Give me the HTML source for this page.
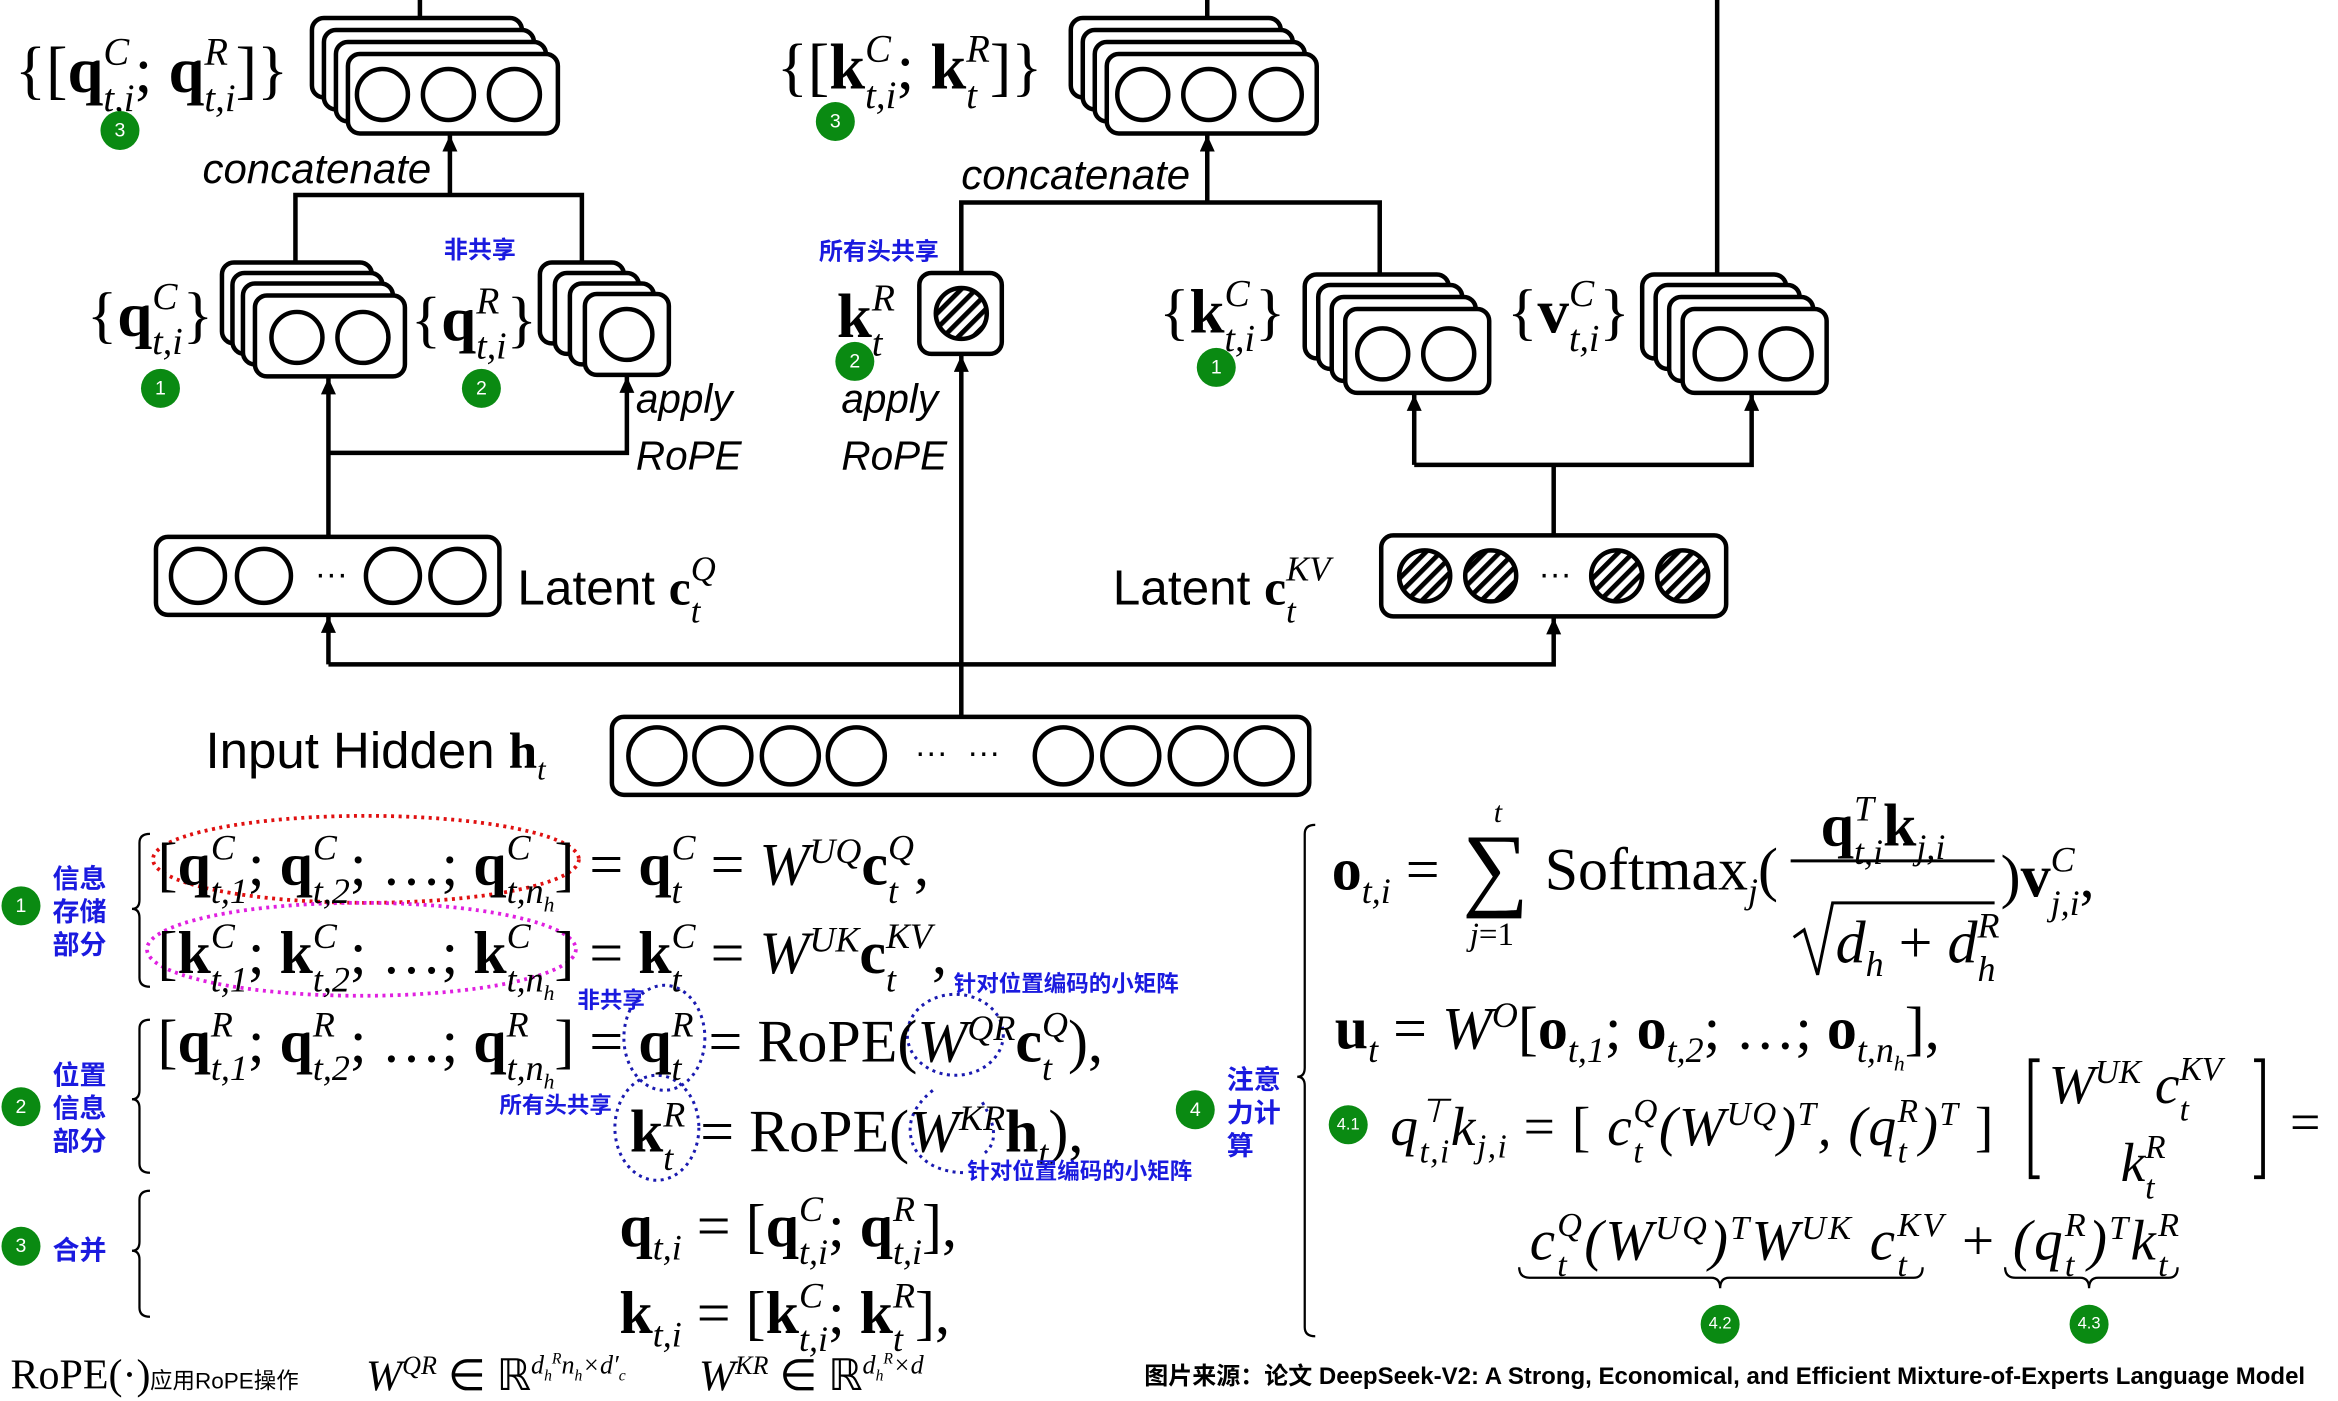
<!DOCTYPE html>
<html><head><meta charset="utf-8"><style>
html,body{margin:0;padding:0;background:#fff;overflow:hidden}
#w{position:absolute;left:0;top:0;width:1559px;height:932px;transform:scale(1.4997);transform-origin:0 0}
svg{position:absolute;left:0;top:0}
.m{position:absolute;font-family:"Liberation Serif",serif;font-size:40px;white-space:nowrap;line-height:1;color:#000}
.s{position:absolute;font-family:"Liberation Sans",sans-serif;white-space:nowrap;line-height:1;color:#000}
.i{font-style:italic}
.b{font-weight:bold;font-style:normal}
.ss{display:inline-block;vertical-align:-0.5em;font-size:.6em;line-height:1.2;font-style:italic;font-weight:normal;text-align:left}
.ss>span{display:block}
sup,sub{font-size:.6em;font-style:italic;font-weight:normal;line-height:0}
.cn{position:absolute;font-family:"Liberation Sans","Noto Sans CJK SC",sans-serif;color:#1a1adf;font-weight:bold;white-space:nowrap;line-height:1}
.g{position:absolute;width:26px;height:26px;border-radius:50%;background:#0a8a12;color:#fff;font:13px "Liberation Sans",sans-serif;text-align:center;line-height:26px}
</style></head><body><div id="w">
<svg width="1559" height="932" viewBox="0 0 1559 932">
<defs>
<pattern id="h" patternUnits="userSpaceOnUse" width="7" height="7" patternTransform="rotate(45)"><rect width="7" height="7" fill="#fff"/><rect width="3.2" height="7" fill="#000"/></pattern>
<marker id="a" markerWidth="12" markerHeight="12" refX="11" refY="5" orient="auto" markerUnits="userSpaceOnUse"><path d="M0,0 L11,5 L0,10 Z" fill="#000"/></marker>
</defs>
<g fill="none" stroke="#000" stroke-width="3">
<line x1="280" y1="0" x2="280" y2="12"/><line x1="805" y1="0" x2="805" y2="12"/><line x1="1145" y1="0" x2="1145" y2="183"/>
<rect x="208" y="12" width="140" height="53" rx="8" fill="#fff"/><rect x="216" y="20" width="140" height="53" rx="8" fill="#fff"/><rect x="224" y="28" width="140" height="53" rx="8" fill="#fff"/><rect x="232" y="36" width="140" height="53" rx="8" fill="#fff"/>
<circle cx="255" cy="63" r="17"/><circle cx="299" cy="63" r="17"/><circle cx="343" cy="63" r="17"/>
<rect x="714" y="12" width="140" height="53" rx="8" fill="#fff"/><rect x="722" y="20" width="140" height="53" rx="8" fill="#fff"/><rect x="730" y="28" width="140" height="53" rx="8" fill="#fff"/><rect x="738" y="36" width="140" height="53" rx="8" fill="#fff"/>
<circle cx="762" cy="63" r="17"/><circle cx="806" cy="63" r="17"/><circle cx="851" cy="63" r="17"/>
<line x1="300" y1="130" x2="300" y2="90" marker-end="url(#a)"/>
<polyline points="197,176 197,130 388,130 388,176"/>
<line x1="805" y1="135" x2="805" y2="90" marker-end="url(#a)"/>
<polyline points="641,182 641,135 920,135 920,183"/>
<rect x="148" y="175" width="100" height="54" rx="8" fill="#fff"/><rect x="155" y="182" width="100" height="54" rx="8" fill="#fff"/><rect x="162" y="189" width="100" height="54" rx="8" fill="#fff"/><rect x="170" y="197" width="100" height="54" rx="8" fill="#fff"/>
<circle cx="198" cy="225" r="17"/><circle cx="242" cy="225" r="17"/>
<rect x="360" y="175" width="56" height="54" rx="8" fill="#fff"/><rect x="370" y="182" width="56" height="54" rx="8" fill="#fff"/><rect x="380" y="189" width="56" height="54" rx="8" fill="#fff"/><rect x="390" y="196" width="56" height="54" rx="8" fill="#fff"/>
<circle cx="418" cy="223" r="17"/>
<line x1="219" y1="357" x2="219" y2="252" marker-end="url(#a)"/>
<polyline points="219,302 418,302 418,251" marker-end="url(#a)"/>
<rect x="104" y="358" width="229" height="52" rx="8" fill="#fff"/>
<circle cx="132" cy="384" r="18"/><circle cx="176" cy="384" r="18"/><circle cx="262" cy="384" r="18"/><circle cx="305" cy="384" r="18"/>
<polyline points="219,443 219,411" marker-end="url(#a)"/>
<polyline points="219,443 1036,443 1036,412" marker-end="url(#a)"/>
<line x1="641" y1="478" x2="641" y2="237" marker-end="url(#a)"/>
<rect x="613" y="182" width="55" height="54" rx="8" fill="#fff"/>
<circle cx="641" cy="209" r="17" fill="url(#h)"/>
<rect x="870" y="183" width="96" height="56" rx="8" fill="#fff"/><rect x="879" y="190" width="96" height="56" rx="8" fill="#fff"/><rect x="888" y="198" width="96" height="56" rx="8" fill="#fff"/><rect x="897" y="206" width="96" height="56" rx="8" fill="#fff"/>
<circle cx="922" cy="236" r="17"/><circle cx="966" cy="236" r="17"/>
<rect x="1095" y="183" width="96" height="56" rx="8" fill="#fff"/><rect x="1104" y="190" width="96" height="56" rx="8" fill="#fff"/><rect x="1113" y="198" width="96" height="56" rx="8" fill="#fff"/><rect x="1122" y="206" width="96" height="56" rx="8" fill="#fff"/>
<circle cx="1147" cy="236" r="17"/><circle cx="1191" cy="236" r="17"/>
<polyline points="943,310 943,263" marker-end="url(#a)"/>
<polyline points="943,310 1168,310 1168,263" marker-end="url(#a)"/>
<line x1="1036" y1="357" x2="1036" y2="310"/>
<rect x="921" y="357" width="230" height="54" rx="8" fill="#fff"/>
<circle cx="950" cy="384" r="17" fill="url(#h)"/><circle cx="994" cy="384" r="17" fill="url(#h)"/><circle cx="1078" cy="384" r="17" fill="url(#h)"/><circle cx="1122" cy="384" r="17" fill="url(#h)"/>
<rect x="408" y="478" width="465" height="52" rx="8" fill="#fff"/>
<circle cx="438" cy="504" r="19"/><circle cx="482" cy="504" r="19"/><circle cx="527" cy="504" r="19"/><circle cx="571" cy="504" r="19"/>
<circle cx="709" cy="504" r="19"/><circle cx="754" cy="504" r="19"/><circle cx="799" cy="504" r="19"/><circle cx="843" cy="504" r="19"/>
</g>
<g fill="#000"><text x="210" y="390" font-size="22" font-family="Liberation Sans">···</text><text x="1026" y="390" font-size="22" font-family="Liberation Sans">···</text><text x="610" y="509" font-size="22" font-family="Liberation Sans">···</text><text x="645" y="509" font-size="22" font-family="Liberation Sans">···</text></g>
<g fill="none" stroke="#000" stroke-width="1.5">
<path d="M100,556 Q93,556 93,562 L93,600 Q93,606 88,606 Q93,606 93,612 L93,652 Q93,658 100,658"/>
<path d="M100,680 Q93,680 93,686 L93,727 Q93,733 88,733 Q93,733 93,739 L93,776 Q93,782 100,782"/>
<path d="M100,794 Q93,794 93,800 L93,828 Q93,834 88,834 Q93,834 93,840 L93,872 Q93,878 100,878"/>
<path d="M877,550 Q870,550 870,556 L870,712 Q870,718 865,718 Q870,718 870,724 L870,885 Q870,891 877,891"/>
<path d="M1013,845 Q1013,852 1020,852 L1141,852 Q1147,852 1147,859 Q1147,852 1153,852 L1276,852 Q1282,852 1282,845"/>
<path d="M1337,845 Q1337,852 1344,852 L1387,852 Q1393,852 1393,859 Q1393,852 1399,852 L1446,852 Q1452,852 1452,845"/>
<path d="M1360,707 L1354,707 L1354,785 L1360,785" stroke-width="2.5"/><path d="M1503,707 L1509,707 L1509,785 L1503,785" stroke-width="2.5"/>
<line x1="1194" y1="574" x2="1330" y2="574" stroke-width="2"/>
<path d="M1196,625 L1203,620 L1212,650 L1222,602 L1330,602" stroke-width="2"/>
</g>
<g fill="none" stroke-width="2.5" stroke-dasharray="2 3">
<ellipse cx="244" cy="573" rx="142" ry="29" stroke="#e01010"/>
<ellipse cx="241" cy="633" rx="143" ry="31" stroke="#e020e0"/>
<g stroke="#1a1ab0" stroke-width="2"><ellipse cx="443" cy="692" rx="27" ry="35"/><ellipse cx="637" cy="690" rx="32" ry="27"/><ellipse cx="438" cy="752" rx="28" ry="35"/><path d="M622,727 Q600,745 610,766 Q620,782 645,782"/><path d="M655,735 Q670,760 655,770"/></g>
</g>
</svg>

<div class="m" style="left:10px;top:20px;font-size:43px">{[<b>q</b><span class="ss"><span>C</span><span>t,i</span></span>; <b>q</b><span class="ss"><span>R</span><span>t,i</span></span>]}</div>
<div class="g" style="left:67px;top:74px">3</div>
<div class="s i" style="left:135px;top:99px;font-size:28px">concatenate</div>
<div class="m" style="left:58px;top:184px;font-size:42px">{<b>q</b><span class="ss"><span>C</span><span>t,i</span></span>}</div>
<div class="g" style="left:94px;top:246px">1</div>
<div class="cn" style="left:296px;top:160px;font-size:16px">非共享</div>
<div class="m" style="left:274px;top:187px;font-size:42px">{<b>q</b><span class="ss"><span>R</span><span>t,i</span></span>}</div>
<div class="g" style="left:308px;top:246px">2</div>
<div class="s i" style="left:424px;top:253px;font-size:27px">apply</div>
<div class="s i" style="left:424px;top:291px;font-size:27px">RoPE</div>
<div class="s" style="left:345px;top:366px;font-size:33px">Latent <b style="font-family:'Liberation Serif'">c</b><span class="ss" style="font-family:'Liberation Serif';font-size:.7em"><span>Q</span><span>t</span></span></div>
<div class="m" style="left:518px;top:18px;font-size:43px">{[<b>k</b><span class="ss"><span>C</span><span>t,i</span></span>; <b>k</b><span class="ss"><span>R</span><span>t</span></span>]}</div>
<div class="g" style="left:544px;top:68px">3</div>
<div class="s i" style="left:641px;top:103px;font-size:28px">concatenate</div>
<div class="cn" style="left:546px;top:161px;font-size:16px">所有头共享</div>
<div class="m" style="left:558px;top:185px;font-size:42px"><b>k</b><span class="ss"><span>R</span><span>t</span></span></div>
<div class="g" style="left:557px;top:228px">2</div>
<div class="s i" style="left:561px;top:253px;font-size:27px">apply</div>
<div class="s i" style="left:561px;top:291px;font-size:27px">RoPE</div>
<div class="m" style="left:773px;top:182px;font-size:42px">{<b>k</b><span class="ss"><span>C</span><span>t,i</span></span>}</div>
<div class="g" style="left:798px;top:232px">1</div>
<div class="m" style="left:1005px;top:182px;font-size:42px">{<b>v</b><span class="ss"><span>C</span><span>t,i</span></span>}</div>
<div class="s" style="left:742px;top:366px;font-size:33px">Latent <b style="font-family:'Liberation Serif'">c</b><span class="ss" style="font-family:'Liberation Serif';font-size:.7em"><span>KV</span><span>t</span></span></div>
<div class="s" style="left:137px;top:484px;font-size:34px">Input Hidden <b style="font-family:'Liberation Serif'">h</b><sub style="font-family:'Liberation Serif'">t</sub></div>

<div class="g" style="left:1px;top:591px">1</div>
<div class="cn" style="left:35px;top:575px;font-size:18px;line-height:22px">信息<br>存储<br>部分</div>
<div class="g" style="left:1px;top:725px">2</div>
<div class="cn" style="left:35px;top:706px;font-size:18px;line-height:22px">位置<br>信息<br>部分</div>
<div class="g" style="left:1px;top:818px">3</div>
<div class="cn" style="left:35px;top:825px;font-size:18px">合并</div>

<div class="m" style="left:105px;top:552px">[<b>q</b><span class="ss"><span>C</span><span>t,1</span></span>; <b>q</b><span class="ss"><span>C</span><span>t,2</span></span>; …; <b>q</b><span class="ss"><span>C</span><span>t,n<sub>h</sub></span></span>] = <b>q</b><span class="ss"><span>C</span><span>t</span></span> = <i>W</i><sup>UQ</sup><b>c</b><span class="ss"><span>Q</span><span>t</span></span>,</div>
<div class="m" style="left:105px;top:611px">[<b>k</b><span class="ss"><span>C</span><span>t,1</span></span>; <b>k</b><span class="ss"><span>C</span><span>t,2</span></span>; …; <b>k</b><span class="ss"><span>C</span><span>t,n<sub>h</sub></span></span>] = <b>k</b><span class="ss"><span>C</span><span>t</span></span> = <i>W</i><sup>UK</sup><b>c</b><span class="ss"><span>KV</span><span>t</span></span>,</div>
<div class="cn" style="left:385px;top:660px;font-size:15px">非共享</div>
<div class="cn" style="left:636px;top:649px;font-size:15px">针对位置编码的小矩阵</div>
<div class="m" style="left:105px;top:670px">[<b>q</b><span class="ss"><span>R</span><span>t,1</span></span>; <b>q</b><span class="ss"><span>R</span><span>t,2</span></span>; …; <b>q</b><span class="ss"><span>R</span><span>t,n<sub>h</sub></span></span>] = <b>q</b><span class="ss"><span>R</span><span>t</span></span> = RoPE(<i>W</i><sup>QR</sup><b>c</b><span class="ss"><span>Q</span><span>t</span></span>),</div>
<div class="cn" style="left:333px;top:730px;font-size:15px">所有头共享</div>
<div class="m" style="left:420px;top:730px"><b>k</b><span class="ss"><span>R</span><span>t</span></span> = RoPE(<i>W</i><sup>KR</sup><b>h</b><sub>t</sub>),</div>
<div class="cn" style="left:645px;top:774px;font-size:15px">针对位置编码的小矩阵</div>
<div class="m" style="left:413px;top:793px"><b>q</b><sub>t,i</sub> = [<b>q</b><span class="ss"><span>C</span><span>t,i</span></span>; <b>q</b><span class="ss"><span>R</span><span>t,i</span></span>],</div>
<div class="m" style="left:413px;top:851px"><b>k</b><sub>t,i</sub> = [<b>k</b><span class="ss"><span>C</span><span>t,i</span></span>; <b>k</b><span class="ss"><span>R</span><span>t</span></span>],</div>

<div class="m" style="left:7px;top:904px;font-size:28px">RoPE(·)</div>
<div class="s" style="left:100px;top:914px;font-size:15px;font-family:'Liberation Sans','Noto Sans CJK SC',sans-serif">应用RoPE操作</div>
<div class="m" style="left:244px;top:904px;font-size:29px"><i>W</i><sup>QR</sup> ∈ ℝ<sup>d<sub>h</sub><sup>R</sup>n<sub>h</sub>×d′<sub>c</sub></sup></div>
<div class="m" style="left:466px;top:904px;font-size:29px"><i>W</i><sup>KR</sup> ∈ ℝ<sup>d<sub>h</sub><sup>R</sup>×d</sup></div>
<div class="s" style="left:763px;top:911px;font-size:16px;font-weight:bold;font-family:'Liberation Sans','Noto Sans CJK SC',sans-serif">图片来源：论文 DeepSeek-V2: A Strong, Economical, and Efficient Mixture-of-Experts Language Model</div>

<div class="g" style="left:784px;top:727px">4</div>
<div class="cn" style="left:818px;top:709px;font-size:18px;line-height:22px">注意<br>力计<br>算</div>
<div class="m" style="left:888px;top:560px"><b>o</b><sub>t,i</sub> =</div>
<div class="m" style="left:975px;top:548px;font-size:62px">∑</div>
<div class="m i" style="left:996px;top:532px;font-size:20px">t</div>
<div class="m" style="left:980px;top:612px;font-size:22px"><i>j</i>=1</div>
<div class="m" style="left:1030px;top:560px">Softmax<sub>j</sub>(</div>
<div class="m" style="left:1214px;top:526px"><b>q</b><span class="ss"><span>T</span><span>t,i</span></span><b>k</b><sub>j,i</sub></div>
<div class="m" style="left:1224px;top:604px"><i>d</i><sub>h</sub> + <i>d</i><span class="ss"><span>R</span><span>h</span></span></div>
<div class="m" style="left:1334px;top:560px">)<b>v</b><span class="ss"><span>C</span><span>j,i</span></span>,</div>
<div class="m" style="left:890px;top:666px"><b>u</b><sub>t</sub> = <i>W</i><sup>O</sup>[<b>o</b><sub>t,1</sub>; <b>o</b><sub>t,2</sub>; …; <b>o</b><sub>t,n<sub>h</sub></sub>],</div>
<div class="g" style="left:886px;top:737px;font-size:11px">4.1</div>
<div class="m i" style="left:927px;top:728px;font-size:37px;letter-spacing:1px">q<span class="ss"><span>⊤</span><span>t,i</span></span>k<sub>j,i</sub> <span style="font-style:normal">= [ </span>c<span class="ss"><span>Q</span><span>t</span></span>(W<sup>UQ</sup>)<sup>T</sup>, (q<span class="ss"><span>R</span><span>t</span></span>)<sup>T</sup><span style="font-style:normal"> ]</span></div>
<div class="m i" style="left:1366px;top:700px;font-size:37px">W<sup>UK</sup> c<span class="ss"><span>KV</span><span>t</span></span></div>
<div class="m i" style="left:1414px;top:752px;font-size:37px">k<span class="ss"><span>R</span><span>t</span></span></div>
<div class="m" style="left:1527px;top:730px;font-size:36px">=</div>
<div class="m i" style="left:1020px;top:803px;font-size:38px;letter-spacing:1.5px">c<span class="ss"><span>Q</span><span>t</span></span>(W<sup>UQ</sup>)<sup>T</sup>W<sup>UK</sup> c<span class="ss"><span>KV</span><span>t</span></span> <span style="font-style:normal">+</span> (q<span class="ss"><span>R</span><span>t</span></span>)<sup>T</sup>k<span class="ss"><span>R</span><span>t</span></span></div>
<div class="g" style="left:1134px;top:870px;font-size:11px">4.2</div>
<div class="g" style="left:1380px;top:870px;font-size:11px">4.3</div>
</div></body></html>
